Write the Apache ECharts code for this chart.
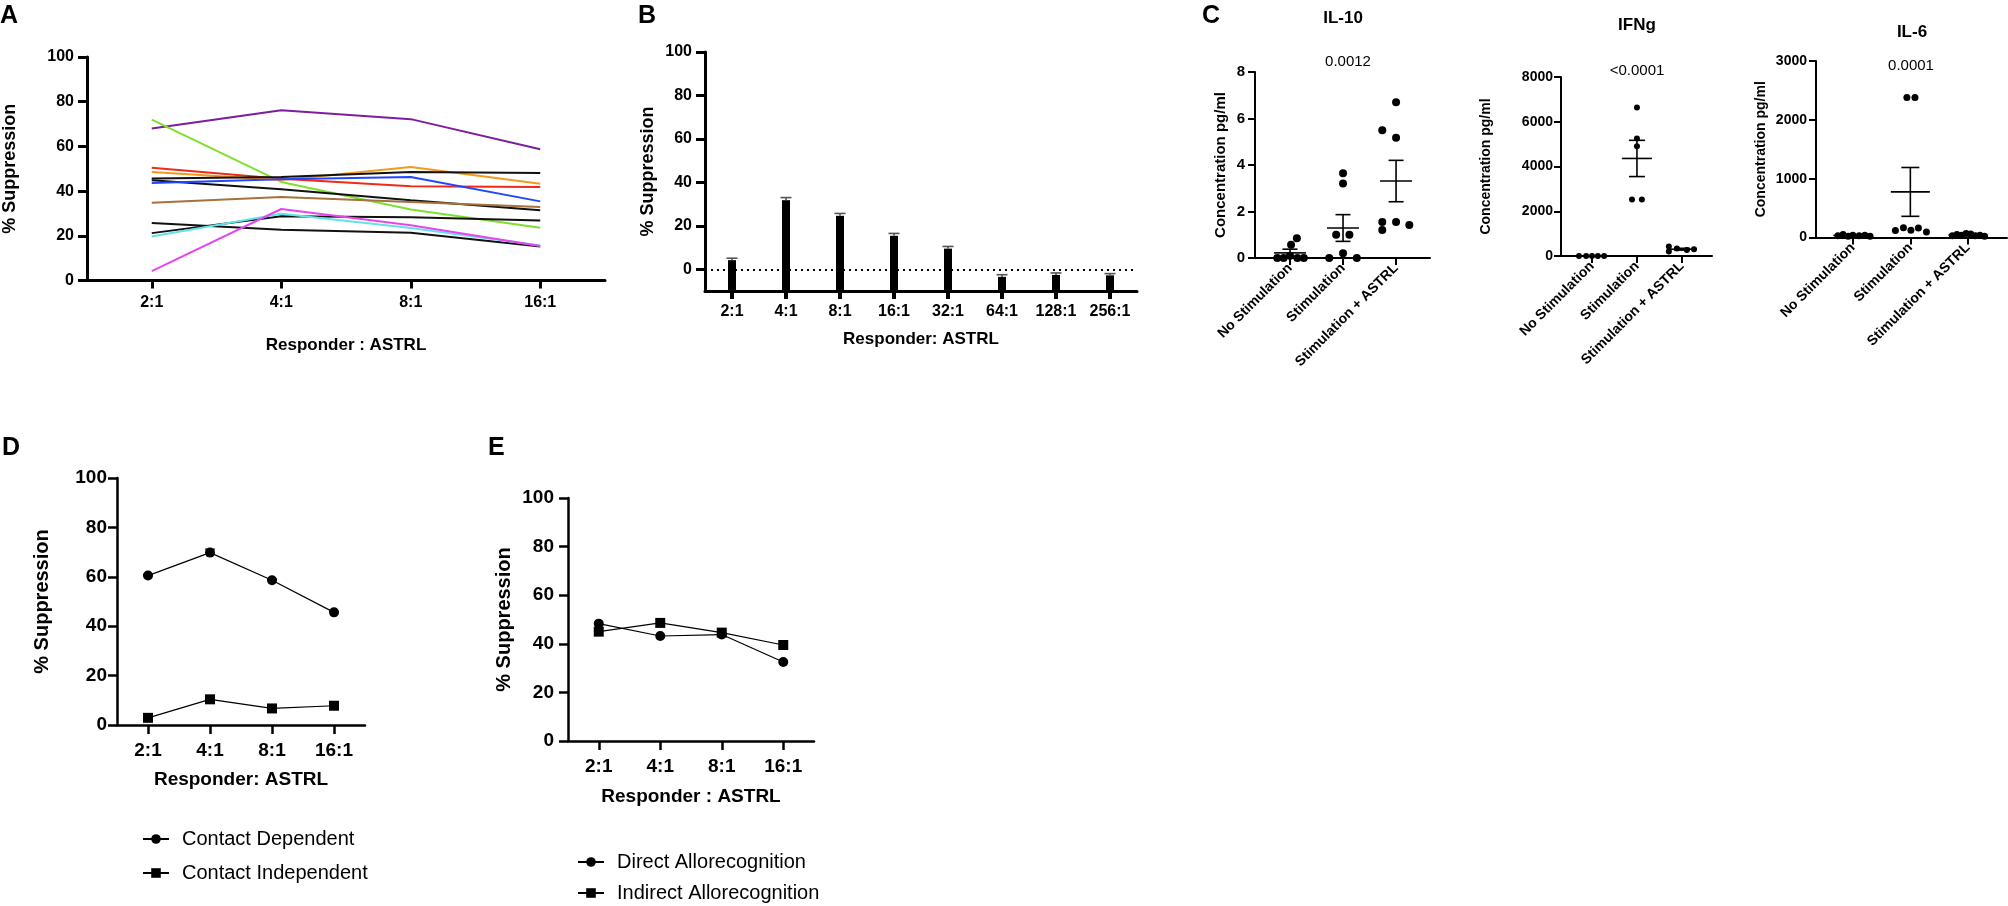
<!DOCTYPE html>
<html>
<head>
<meta charset="utf-8">
<title>ASTRL suppression and cytokines</title>
<script src="https://cdn.jsdelivr.net/npm/echarts@6/dist/echarts.min.js"></script>
<style>
  html, body { margin: 0; padding: 0; background: #fff; }
  #chart { width: 2008px; height: 906px; }
</style>
</head>
<body>
<div id="chart" class="echart"></div>
<script>
'use strict';

/*-----------------------------------------------
|  Data
-----------------------------------------------*/

// A - individual donors
const ratiosA = ['2:1', '4:1', '8:1', '16:1'];
const donorPurple = [68, 76.2, 72.2, 58.7];
const donorGreen = [72, 44.1, 31.8, 23.6];
const donorRed = [50.4, 45.5, 42.2, 41.8];
const donorOrange = [48.6, 45, 50.8, 43.3];
const donorBlack1 = [45.6, 46.3, 48.6, 48.1];
const donorBlack2 = [44.8, 40.8, 35.9, 31.4];
const donorBlue = [43.6, 45.3, 46.3, 35.4];
const donorBrown = [34.8, 37.4, 35.1, 32.9];
const donorBlack3 = [25.7, 22.7, 21.4, 15.2];
const donorBlack4 = [21.2, 28.7, 28.3, 26.9];
const donorCyan = [19.7, 29.9, 23.5, 15.7];
const donorMagenta = [4.2, 32, 24.7, 15.4];

// B - titration
const ratiosB = ['2:1', '4:1', '8:1', '16:1', '32:1', '64:1', '128:1', '256:1'];
const suppressionB = [4.2, 31.8, 24.6, 15.4, 9.5, -3.5, -2.6, -2.8];
const semB = [0.9, 1.2, 1.1, 1.1, 1.0, 1.0, 0.9, 0.8];

// C - cytokines
const stimGroups = ['No Stimulation', 'Stimulation', 'Stimulation + ASTRL'];
const il10NoStim = [0, 0, 0, 0, 0.1, 0.57, 0.85];
const il10Stim = [3.65, 3.2, 1.0, 1.0, 0.2, 0, 0];
const il10StimAstrl = [6.7, 5.5, 5.17, 1.55, 1.55, 1.42, 1.2];
const il10Mean = [0.22, 1.29, 3.31];
const il10Sem = [0.16, 0.575, 0.89];
const ifngNoStim = [0, 0, 0, 0, 0];
const ifngStim = [6640, 5250, 4910, 2530, 2530];
const ifngStimAstrl = [420, 200, 330, 270, 300];
const ifngMean = [0, 4360, 304];
const ifngSem = [0, 810, 40];
const il6NoStim = [30, 50, 20, 40, 30, 40, 20];
const il6Stim = [2380, 2380, 120, 165, 125, 160, 95];
const il6StimAstrl = [30, 50, 40, 70, 60, 30, 40, 20];
const il6Mean = [33, 775, 42];
const il6Sem = [5, 415, 6];
const pIL10 = '0.0012';
const pIFNg = '<0.0001';
const pIL6 = '0.0001';

// D - contact dependence
const ratiosD = ['2:1', '4:1', '8:1', '16:1'];
const contactDependent = [60.5, 69.8, 58.6, 45.6];
const contactDependentSem = [0.4, 1.4, 0.4, 0.4];
const contactIndependent = [2.9, 10.4, 6.7, 7.8];
const contactIndependentSem = [0.4, 1.0, 0.4, 0.4];

// E - allorecognition
const ratiosE = ['2:1', '4:1', '8:1', '16:1'];
const directAllo = [48.3, 43.2, 43.8, 32.5];
const indirectAllo = [45, 48.6, 44.6, 39.5];

/*-----------------------------------------------
|  Layout helpers (dot spread inside a group)
-----------------------------------------------*/
const il10Jitter = [
  [-0.24, -0.12, 0.14, 0.26, 0, 0.02, 0.13],
  [0, 0, -0.13, 0.12, 0, -0.26, 0.26],
  [0, -0.26, 0, -0.26, 0, 0.25, -0.26]
];
const ifngJitter = [
  [-0.29, -0.13, 0, 0.13, 0.27],
  [0, 0, 0, -0.11, 0.11],
  [-0.29, -0.29, -0.11, 0.11, 0.27]
];
const il6Jitter = [
  [-0.26, -0.17, -0.08, 0, 0.11, 0.21, 0.3],
  [-0.06, 0.08, -0.26, -0.12, 0.01, 0.14, 0.28],
  [-0.27, -0.19, -0.11, -0.03, 0.05, 0.13, 0.21, 0.29]
];

const FONT = '"Liberation Sans", Arial, Helvetica, sans-serif';

const axisLook = (width, tickLen) => ({
  axisLine: { show: true, onZero: false, lineStyle: { color: '#000', width } },
  axisTick: { show: true, length: tickLen, lineStyle: { color: '#000', width } },
  splitLine: { show: false }
});

const labelLook = (size, margin, extra) =>
  Object.assign({ color: '#000', fontWeight: 'bold', fontSize: size, fontFamily: FONT, margin }, extra || {});

const nameLook = (size, weight) => ({ color: '#000', fontWeight: weight || 'bold', fontSize: size, fontFamily: FONT });

const plain = v => String(v);

const dotsFrom = (groups, jitter) => {
  const out = [];
  groups.forEach((g, gi) => g.forEach((v, k) => out.push([gi + jitter[gi][k], v])));
  return out;
};

const meanSemItem = (halfMean, halfCap) => (params, api) => {
  const x = api.value(0);
  const m = api.value(1);
  const s = api.value(2);
  const c = api.coord([x, m]);
  const hi = api.coord([x, m + s]);
  const lo = api.coord([x, Math.max(m - s, 0)]);
  const style = { stroke: '#000', lineWidth: 1.6 };
  return {
    type: 'group',
    children: [
      { type: 'line', shape: { x1: c[0] - halfMean, y1: c[1], x2: c[0] + halfMean, y2: c[1] }, style },
      { type: 'line', shape: { x1: c[0], y1: hi[1], x2: c[0], y2: lo[1] }, style },
      { type: 'line', shape: { x1: c[0] - halfCap, y1: hi[1], x2: c[0] + halfCap, y2: hi[1] }, style },
      { type: 'line', shape: { x1: c[0] - halfCap, y1: lo[1], x2: c[0] + halfCap, y2: lo[1] }, style }
    ]
  };
};

const upperCapItem = (halfCap, color, lw) => (params, api) => {
  const x = api.value(0);
  const m = api.value(1);
  const s = api.value(2);
  const c = api.coord([x, m]);
  const hi = api.coord([x, m + s]);
  const style = { stroke: color, lineWidth: lw };
  return {
    type: 'group',
    children: [
      { type: 'line', shape: { x1: c[0], y1: c[1], x2: c[0], y2: hi[1] }, style },
      { type: 'line', shape: { x1: c[0] - halfCap, y1: hi[1], x2: c[0] + halfCap, y2: hi[1] }, style }
    ]
  };
};

const text = (str, x, y, font, align) => ({
  type: 'text',
  x,
  y,
  style: { text: str, font, fill: '#000', textAlign: align || 'center', textVerticalAlign: 'middle' }
});

/*-----------------------------------------------
|  Chart
-----------------------------------------------*/
document.addEventListener('DOMContentLoaded', () => {
  const $chart = echarts.init(document.getElementById('chart'));

  const donorLines = [
    [donorPurple, '#7d1e9a'],
    [donorGreen, '#7ee02e'],
    [donorRed, '#ee2a1a'],
    [donorOrange, '#f39a1e'],
    [donorBlack1, '#111111'],
    [donorBlack2, '#111111'],
    [donorBlue, '#2146ff'],
    [donorBrown, '#a5713e'],
    [donorBlack3, '#111111'],
    [donorBlack4, '#111111'],
    [donorCyan, '#62e2ea'],
    [donorMagenta, '#e646f0']
  ];

  const cytoX = (min, max, idx) => Object.assign({
    type: 'value',
    gridIndex: idx,
    min,
    max,
    axisLabel: labelLook(14, 8, {
      rotate: 45,
      customValues: [0, 1, 2],
      formatter: v => stimGroups[Math.round(v)]
    })
  }, axisLook(2, 7), {
    axisTick: { show: true, length: 7, customValues: [0, 1, 2], lineStyle: { color: '#000', width: 2 } }
  });

  const legendText = { color: '#000', fontSize: 20, fontFamily: FONT, lineHeight: 20, padding: [0, 0, 0, 8] };

  const option = {
    animation: false,
    backgroundColor: '#fff',
    textStyle: { fontFamily: FONT },
    grid: [
      { left: 85, top: 57, width: 520, height: 223.5 },
      { left: 705, top: 52, width: 432, height: 239 },
      { left: 1255, top: 72, width: 175, height: 186 },
      { left: 1561, top: 77, width: 151, height: 179 },
      { left: 1816, top: 61, width: 191, height: 176.5 },
      { left: 117, top: 478, width: 248, height: 247 },
      { left: 568, top: 498, width: 246, height: 243 }
    ],
    xAxis: [
      Object.assign({
        type: 'category', gridIndex: 0, data: ratiosA, boundaryGap: true,
        name: 'Responder : ASTRL', nameLocation: 'middle', nameGap: 56, nameTextStyle: nameLook(17),
        axisLabel: labelLook(16, 14)
      }, axisLook(3, 8), { axisTick: { show: true, alignWithLabel: true, length: 8, lineStyle: { color: '#000', width: 3 } } }),
      Object.assign({
        type: 'category', gridIndex: 1, data: ratiosB, boundaryGap: true,
        name: 'Responder: ASTRL', nameLocation: 'middle', nameGap: 40, nameTextStyle: nameLook(17),
        axisLabel: labelLook(16, 13, { interval: 0 })
      }, axisLook(3, 8), { axisTick: { show: true, alignWithLabel: true, interval: 0, length: 8, lineStyle: { color: '#000', width: 4 } } }),
      cytoX(-0.66, 2.64, 2),
      cytoX(-0.69, 2.67, 3),
      cytoX(-0.64, 2.68, 4),
      Object.assign({
        type: 'category', gridIndex: 5, data: ratiosD, boundaryGap: true,
        name: 'Responder: ASTRL', nameLocation: 'middle', nameGap: 45, nameTextStyle: nameLook(19),
        axisLabel: labelLook(19, 16)
      }, axisLook(2.5, 9), { axisTick: { show: true, alignWithLabel: true, length: 9, lineStyle: { color: '#000', width: 2.5 } } }),
      Object.assign({
        type: 'category', gridIndex: 6, data: ratiosE, boundaryGap: true,
        name: 'Responder : ASTRL', nameLocation: 'middle', nameGap: 46, nameTextStyle: nameLook(19),
        axisLabel: labelLook(19, 16)
      }, axisLook(2.5, 9), { axisTick: { show: true, alignWithLabel: true, length: 9, lineStyle: { color: '#000', width: 2.5 } } })
    ],
    yAxis: [
      Object.assign({
        type: 'value', gridIndex: 0, min: 0, max: 100, interval: 20,
        name: '% Suppression', nameLocation: 'middle', nameGap: 68, nameTextStyle: nameLook(18),
        axisLabel: labelLook(16, 13)
      }, axisLook(3, 9)),
      Object.assign({
        type: 'value', gridIndex: 1, min: -10, max: 100,
        name: '% Suppression', nameLocation: 'middle', nameGap: 48, nameTextStyle: nameLook(18),
        axisLabel: labelLook(16, 13, { customValues: [0, 20, 40, 60, 80, 100] })
      }, axisLook(3, 9), { axisTick: { show: true, length: 9, customValues: [0, 20, 40, 60, 80, 100], lineStyle: { color: '#000', width: 3 } } }),
      Object.assign({
        type: 'value', gridIndex: 2, min: 0, max: 8, interval: 2,
        name: 'Concentration pg/ml', nameLocation: 'middle', nameGap: 27, nameTextStyle: nameLook(15),
        axisLabel: labelLook(15, 10, { formatter: plain })
      }, axisLook(2, 7)),
      Object.assign({
        type: 'value', gridIndex: 3, min: 0, max: 8000, interval: 2000,
        name: 'Concentration pg/ml', nameLocation: 'middle', nameGap: 68, nameTextStyle: nameLook(14),
        axisLabel: labelLook(14, 8, { formatter: plain })
      }, axisLook(2, 7)),
      Object.assign({
        type: 'value', gridIndex: 4, min: 0, max: 3000, interval: 1000,
        name: 'Concentration pg/ml', nameLocation: 'middle', nameGap: 48, nameTextStyle: nameLook(14),
        axisLabel: labelLook(14, 9, { formatter: plain })
      }, axisLook(2, 7)),
      Object.assign({
        type: 'value', gridIndex: 5, min: 0, max: 100, interval: 20,
        name: '% Suppression', nameLocation: 'middle', nameGap: 65, nameTextStyle: nameLook(20),
        axisLabel: labelLook(19, 10)
      }, axisLook(2.5, 9)),
      Object.assign({
        type: 'value', gridIndex: 6, min: 0, max: 100, interval: 20,
        name: '% Suppression', nameLocation: 'middle', nameGap: 54, nameTextStyle: nameLook(20),
        axisLabel: labelLook(19, 14)
      }, axisLook(2.5, 9))
    ],
    legend: [
      {
        data: ['Contact Dependent', 'Contact Independent'],
        orient: 'vertical', left: 142, top: 829, padding: 0,
        itemWidth: 26, itemHeight: 12, itemGap: 14,
        selectedMode: false, textStyle: legendText
      },
      {
        data: ['Direct Allorecognition', 'Indirect Allorecognition'],
        orient: 'vertical', left: 577, top: 852, padding: 0,
        itemWidth: 26, itemHeight: 12, itemGap: 11,
        selectedMode: false, textStyle: legendText
      }
    ],
    graphic: [
      text('A', 0, 16, 'bold 25px ' + FONT, 'left'),
      text('B', 638, 16, 'bold 25px ' + FONT, 'left'),
      text('C', 1202, 16, 'bold 25px ' + FONT, 'left'),
      text('D', 2, 448, 'bold 25px ' + FONT, 'left'),
      text('E', 488, 448, 'bold 25px ' + FONT, 'left'),
      text('IL-10', 1343, 18, 'bold 17px ' + FONT),
      text(pIL10, 1348, 62, '15px ' + FONT),
      text('IFNg', 1637, 25, 'bold 17px ' + FONT),
      text(pIFNg, 1637, 71, '15px ' + FONT),
      text('IL-6', 1912, 32, 'bold 17px ' + FONT),
      text(pIL6, 1911, 66, '15px ' + FONT)
    ],
    series: []
  };

  // A
  donorLines.forEach(([values, color]) => {
    option.series.push({
      type: 'line', xAxisIndex: 0, yAxisIndex: 0, data: values,
      showSymbol: false, symbol: 'none', silent: true,
      lineStyle: { color, width: 2 }
    });
  });

  // B
  option.series.push({
    type: 'custom', xAxisIndex: 1, yAxisIndex: 1,
    data: suppressionB.map((v, i) => [i, v]),
    encode: { x: 0, y: 1 },
    renderItem: (params, api) => {
      const top = api.coord([api.value(0), api.value(1)]);
      const base = api.coord([api.value(0), -10]);
      return { type: 'rect', shape: { x: top[0] - 4, y: top[1], width: 8, height: base[1] - top[1] }, style: { fill: '#000' } };
    },
    markLine: {
      silent: true, symbol: 'none', label: { show: false },
      lineStyle: { type: [2, 4], width: 2, color: '#000' },
      data: [{ yAxis: 0 }]
    }
  });
  option.series.push({
    type: 'custom', xAxisIndex: 1, yAxisIndex: 1,
    data: suppressionB.map((v, i) => [i, v, semB[i]]),
    encode: { x: 0, y: 1 },
    renderItem: upperCapItem(5.5, '#555', 1.6)
  });

  // C
  const cyto = [
    [2, [il10NoStim, il10Stim, il10StimAstrl], il10Jitter, il10Mean, il10Sem, 8, 16, 7.5],
    [3, [ifngNoStim, ifngStim, ifngStimAstrl], ifngJitter, ifngMean, ifngSem, 6, 15, 8],
    [4, [il6NoStim, il6Stim, il6StimAstrl], il6Jitter, il6Mean, il6Sem, 7, 19.5, 9]
  ];
  cyto.forEach(([idx, groups, jitter, mean, sem, size, halfMean, halfCap]) => {
    option.series.push({
      type: 'custom', xAxisIndex: idx, yAxisIndex: idx,
      data: mean.map((m, i) => [i, m, sem[i]]),
      encode: { x: 0, y: 1 },
      renderItem: meanSemItem(halfMean, halfCap)
    });
    option.series.push({
      type: 'scatter', xAxisIndex: idx, yAxisIndex: idx,
      data: dotsFrom(groups, jitter),
      symbol: 'circle', symbolSize: size,
      itemStyle: { color: '#000', opacity: 1 }
    });
  });

  // D
  option.series.push(
    {
      name: 'Contact Dependent', type: 'line', xAxisIndex: 5, yAxisIndex: 5, data: contactDependent,
      symbol: 'circle', symbolSize: 10, lineStyle: { color: '#000', width: 1.2 }, itemStyle: { color: '#000' }
    },
    {
      name: 'Contact Independent', type: 'line', xAxisIndex: 5, yAxisIndex: 5, data: contactIndependent,
      symbol: 'rect', symbolSize: 10, lineStyle: { color: '#000', width: 1.2 }, itemStyle: { color: '#000' }
    },
    {
      type: 'custom', xAxisIndex: 5, yAxisIndex: 5,
      data: contactDependent.map((v, i) => [i, v, contactDependentSem[i]])
        .concat(contactIndependent.map((v, i) => [i, v, contactIndependentSem[i]])),
      encode: { x: 0, y: 1 },
      renderItem: upperCapItem(5, '#000', 1.2)
    }
  );

  // E
  option.series.push(
    {
      name: 'Direct Allorecognition', type: 'line', xAxisIndex: 6, yAxisIndex: 6, data: directAllo,
      symbol: 'circle', symbolSize: 10, lineStyle: { color: '#000', width: 1.2 }, itemStyle: { color: '#000' }
    },
    {
      name: 'Indirect Allorecognition', type: 'line', xAxisIndex: 6, yAxisIndex: 6, data: indirectAllo,
      symbol: 'rect', symbolSize: 10, lineStyle: { color: '#000', width: 1.2 }, itemStyle: { color: '#000' }
    }
  );

  $chart.setOption(option);

  window.addEventListener('resize', () => $chart.resize());
});
</script>
</body>
</html>
